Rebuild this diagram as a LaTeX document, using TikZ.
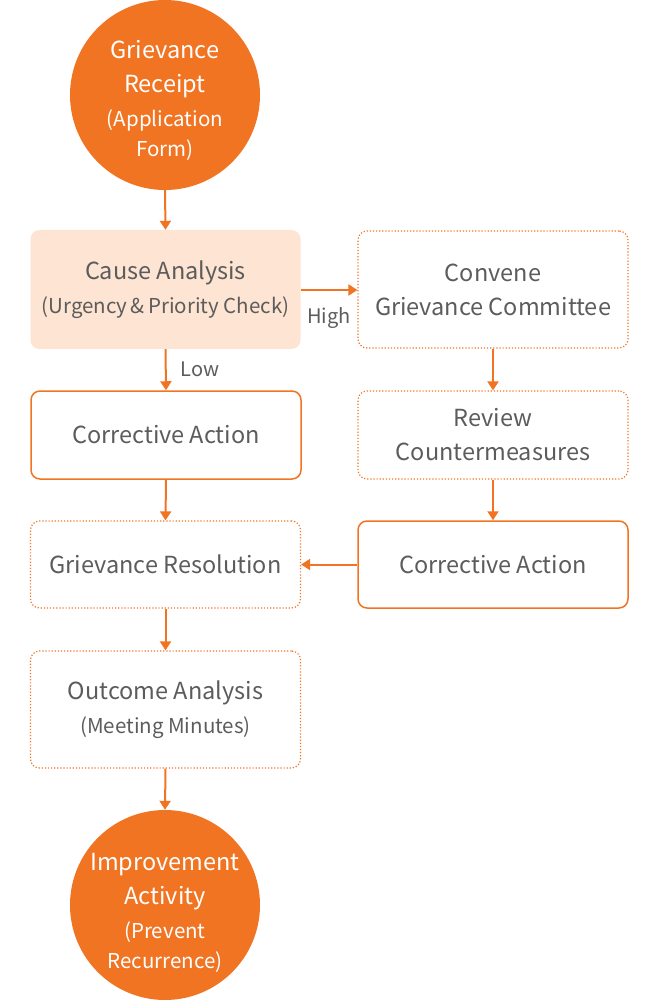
\documentclass[tikz,border=0pt]{standalone}
\usepackage{fontspec}
\setmainfont{Noto Sans CJK KR}
\usetikzlibrary{arrows.meta}
\definecolor{org}{HTML}{F17423}
\definecolor{peach}{HTML}{FEE4D2}
\definecolor{txt}{HTML}{5C5C5C}
\tikzset{
  x=1pt,y=-1pt,
  circ/.style={circle,fill=org,minimum size=190pt,inner sep=0pt},
  circtext/.style={inner sep=0pt,text=white,align=center,font=\fontsize{23.5}{34}\selectfont},
  boxbase/.style={rounded corners=9pt,minimum width=270pt,inner sep=0pt,align=center,text=txt,font=\fontsize{23.5}{34}\selectfont},
  solidbox/.style={boxbase,draw=org,line width=1.5pt},
  dotbox/.style={boxbase,draw=org,line width=1.2pt,dash pattern=on 1.2pt off 1.9pt},
  fillbox/.style={boxbase,fill=peach},
  arr/.style={draw=org,line width=2pt,-{Triangle[width=11pt,length=9pt]}},
  lab/.style={text=txt,font=\fontsize{20}{24}\selectfont,inner sep=0pt},
}
\newcommand{\subt}[1]{{\fontsize{20.5}{30}\selectfont #1}}
\begin{document}
\begin{tikzpicture}
\useasboundingbox (0,0) rectangle (660,1000);
\node[circ] (c1) at (165,95) {};
\node[circtext] (c1t) at (165,100) {Grievance\\Receipt\\\subt{(Application}\\[-4pt]\subt{Form)}};
\node[fillbox,minimum height=119pt] (ca) at (165.5,289.5) {Cause Analysis\\\subt{(Urgency\,\&\,Priority Check)}};
\node[dotbox,minimum height=117pt] (cv) at (493,289.5) {Convene\\Grievance Committee};
\node[solidbox,minimum height=88pt] (co1) at (166,435) {Corrective Action};
\node[dotbox,minimum height=88pt] (rv) at (493,435) {Review\\Countermeasures};
\node[dotbox,minimum height=87pt] (gr) at (165.5,564.5) {Grievance Resolution};
\node[solidbox,minimum height=87pt] (co2) at (493,564.5) {Corrective Action};
\node[dotbox,minimum height=117pt] (oa) at (165.5,709.5) {Outcome Analysis\\\subt{(Meeting Minutes)}};
\node[circ] (c2) at (165,905) {};
\node[circtext] (c2t) at (165,912.5) {Improvement\\Activity\\\subt{(Prevent}\\[-4pt]\subt{Recurrence)}};
\draw[arr] (c1.south) -- (ca.north);
\draw[arr] (ca.east |- 0,290) -- (cv.west |- 0,290) node[pos=0.5,lab,below=17pt] (hi) {High};
\draw[arr] (ca.south) -- (co1.north) node[pos=0.5,lab,right=14pt] (lo) {Low};
\draw[arr] (cv.south) -- (rv.north);
\draw[arr] (co1.south) -- (gr.north);
\draw[arr] (rv.south) -- (co2.north);
\draw[arr] (co2.west) -- (gr.east);
\draw[arr] (gr.south) -- (oa.north);
\draw[arr] (oa.south) -- (c2.north);
\end{tikzpicture}
\end{document}
